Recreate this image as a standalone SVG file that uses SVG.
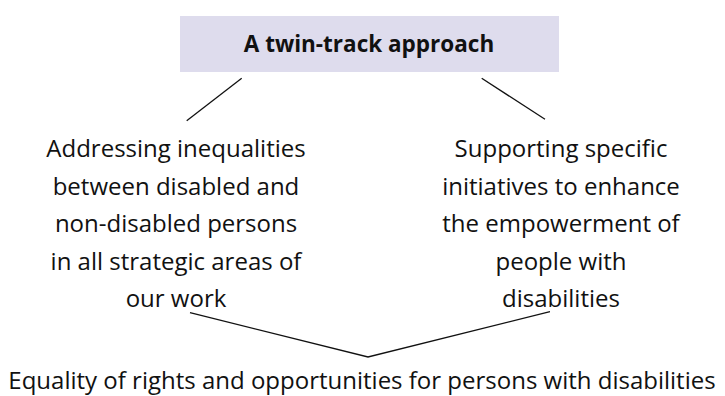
<svg xmlns="http://www.w3.org/2000/svg" width="725" height="396" viewBox="0 0 725 396">
<style>
.t{font-family:"Open Sans","Liberation Sans",sans-serif;font-size:24px;fill:#111;text-anchor:middle}
.h{font-family:"Open Sans","Liberation Sans",sans-serif;font-size:22.5px;font-weight:bold;fill:#111;text-anchor:middle}
.c{stroke:#111;stroke-width:1.3;fill:none}
</style>
<rect width="725" height="396" fill="#fff"/>
<g id="title">
<rect x="180" y="16" width="379" height="56" fill="#dedced"/>
<text class="h" x="369" y="52">A twin-track approach</text>
</g>
<g id="left">
<text class="t" x="176" y="157">Addressing inequalities</text>
<text class="t" x="176" y="194.5">between disabled and</text>
<text class="t" x="176" y="232">non-disabled persons</text>
<text class="t" x="176" y="269.5">in all strategic areas of</text>
<text class="t" x="176" y="307">our work</text>
</g>
<g id="right">
<text class="t" x="561" y="157">Supporting specific</text>
<text class="t" x="561" y="194.5">initiatives to enhance</text>
<text class="t" x="561" y="232">the empowerment of</text>
<text class="t" x="561" y="269.5">people with</text>
<text class="t" x="561" y="307">disabilities</text>
</g>
<g id="goal">
<text class="t" x="362" y="388.5">Equality of rights and opportunities for persons with disabilities</text>
</g>
<g id="connectors">
<line class="c" x1="241.7" y1="78.3" x2="186.7" y2="120.7"/>
<line class="c" x1="481.7" y1="78.3" x2="545" y2="119.3"/>
<polyline class="c" points="190,312.7 368,357 550,311.7"/>
</g>
</svg>
